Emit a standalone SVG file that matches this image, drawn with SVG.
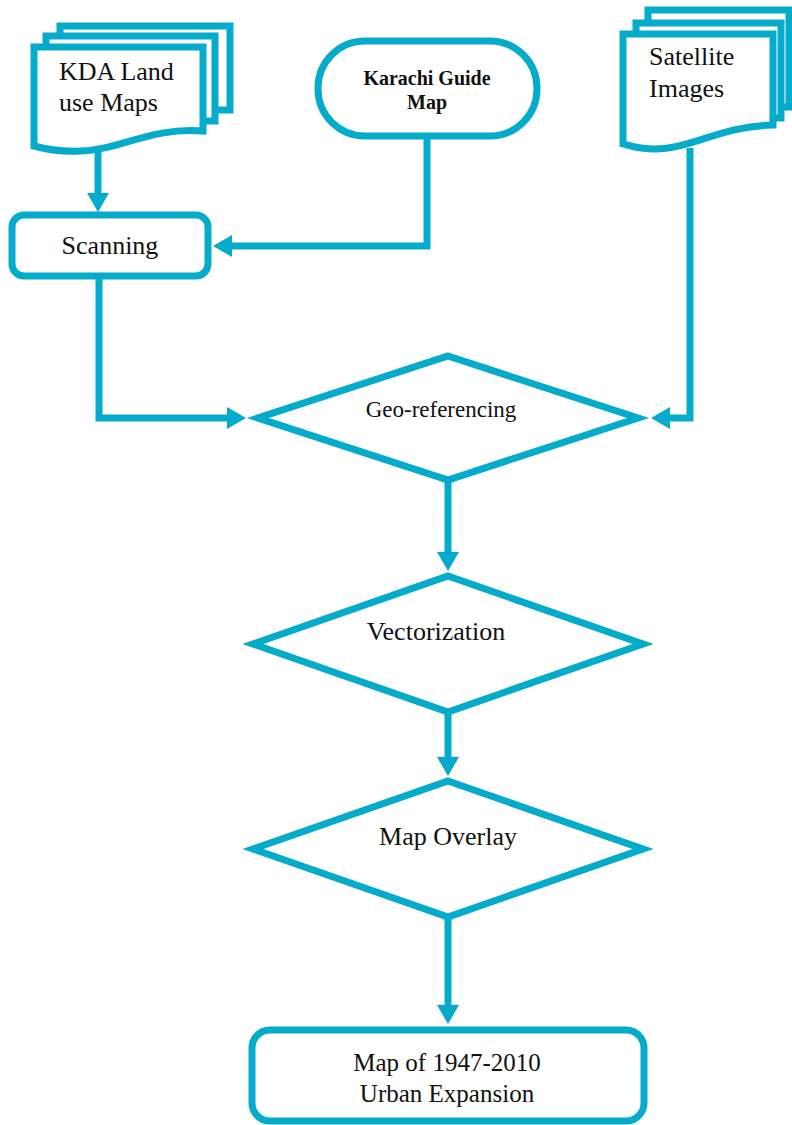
<svg xmlns="http://www.w3.org/2000/svg" width="792" height="1125" viewBox="0 0 792 1125">
<defs>
<style>
.sh{fill:#fff;stroke:#05ABCB;stroke-width:7;stroke-linejoin:miter;stroke-miterlimit:10}
.ln{fill:none;stroke:#05ABCB;stroke-width:7;stroke-linejoin:miter}
.t{font-family:"Liberation Serif","Times New Roman",serif;font-size:26px;fill:#111}
.c{text-anchor:middle}
</style>
<marker id="ah" markerUnits="userSpaceOnUse" markerWidth="20" markerHeight="24" refX="1" refY="11" orient="auto" viewBox="0 0 20 22">
<path d="M0,0 L19,11 L0,22 Z" fill="#05ABCB"/>
</marker>
</defs>
<rect width="792" height="1125" fill="#fff"/>
<g id="connectors">
<path class="ln" d="M98,150 V194" marker-end="url(#ah)"/>
<path class="ln" d="M427,136 V246 H231" marker-end="url(#ah)"/>
<path class="ln" d="M99,276 V418 H228" marker-end="url(#ah)"/>
<path class="ln" d="M690,148 V418 H669" marker-end="url(#ah)"/>
<path class="ln" d="M448,480 V553" marker-end="url(#ah)"/>
<path class="ln" d="M448,712 V758" marker-end="url(#ah)"/>
<path class="ln" d="M448,916 V1006" marker-end="url(#ah)"/>
</g>
<g id="kda">
<path class="ln" d="M60,36 V26 H230 V110 H215"/>
<path class="ln" d="M46,47 V36 H215 V121 H203"/>
<path class="sh" d="M34,47 H203 V131 C150,127 120,150 80,151 C60,152 45,149 34,146 Z"/>
<text class="t" x="59" y="80">KDA Land</text>
<text class="t" x="59" y="111">use Maps</text>
</g>
<g id="karachi">
<rect class="sh" x="318" y="41" width="219" height="95" rx="47" ry="47"/>
<text class="t c" x="427" y="85" style="font-size:20px;font-weight:bold">Karachi Guide</text>
<text class="t c" x="427" y="109" style="font-size:20px;font-weight:bold">Map</text>
</g>
<g id="satellite">
<path class="ln" d="M648,20 V10 H789 V107 H781"/>
<path class="ln" d="M636,34 V23 H781 V118 H773"/>
<path class="sh" d="M623,34 H773 V125 C720,126 690,150 652,149 C640,149 630,146 623,144 Z"/>
<text class="t" x="649" y="65">Satellite</text>
<text class="t" x="649" y="97">Images</text>
</g>
<g id="scanning">
<rect class="sh" x="12" y="215" width="196" height="61" rx="12" ry="12"/>
<text class="t c" x="110" y="254">Scanning</text>
</g>
<g id="georef">
<path class="sh" d="M448,356 L638,418 L448,480 L258,418 Z"/>
<text class="t c" x="441" y="417" style="font-size:23px">Geo-referencing</text>
</g>
<g id="vector">
<path class="sh" d="M448,576 L643,644 L448,712 L253,644 Z"/>
<text class="t c" x="436" y="640">Vectorization</text>
</g>
<g id="overlay">
<path class="sh" d="M448,781 L643,849 L448,917 L253,849 Z"/>
<text class="t c" x="448" y="845">Map Overlay</text>
</g>
<g id="final">
<rect class="sh" x="252" y="1030" width="392" height="91" rx="18" ry="18"/>
<text class="t c" x="447" y="1071" style="font-size:25px">Map of 1947-2010</text>
<text class="t c" x="447" y="1102" style="font-size:25px">Urban Expansion</text>
</g>
</svg>
